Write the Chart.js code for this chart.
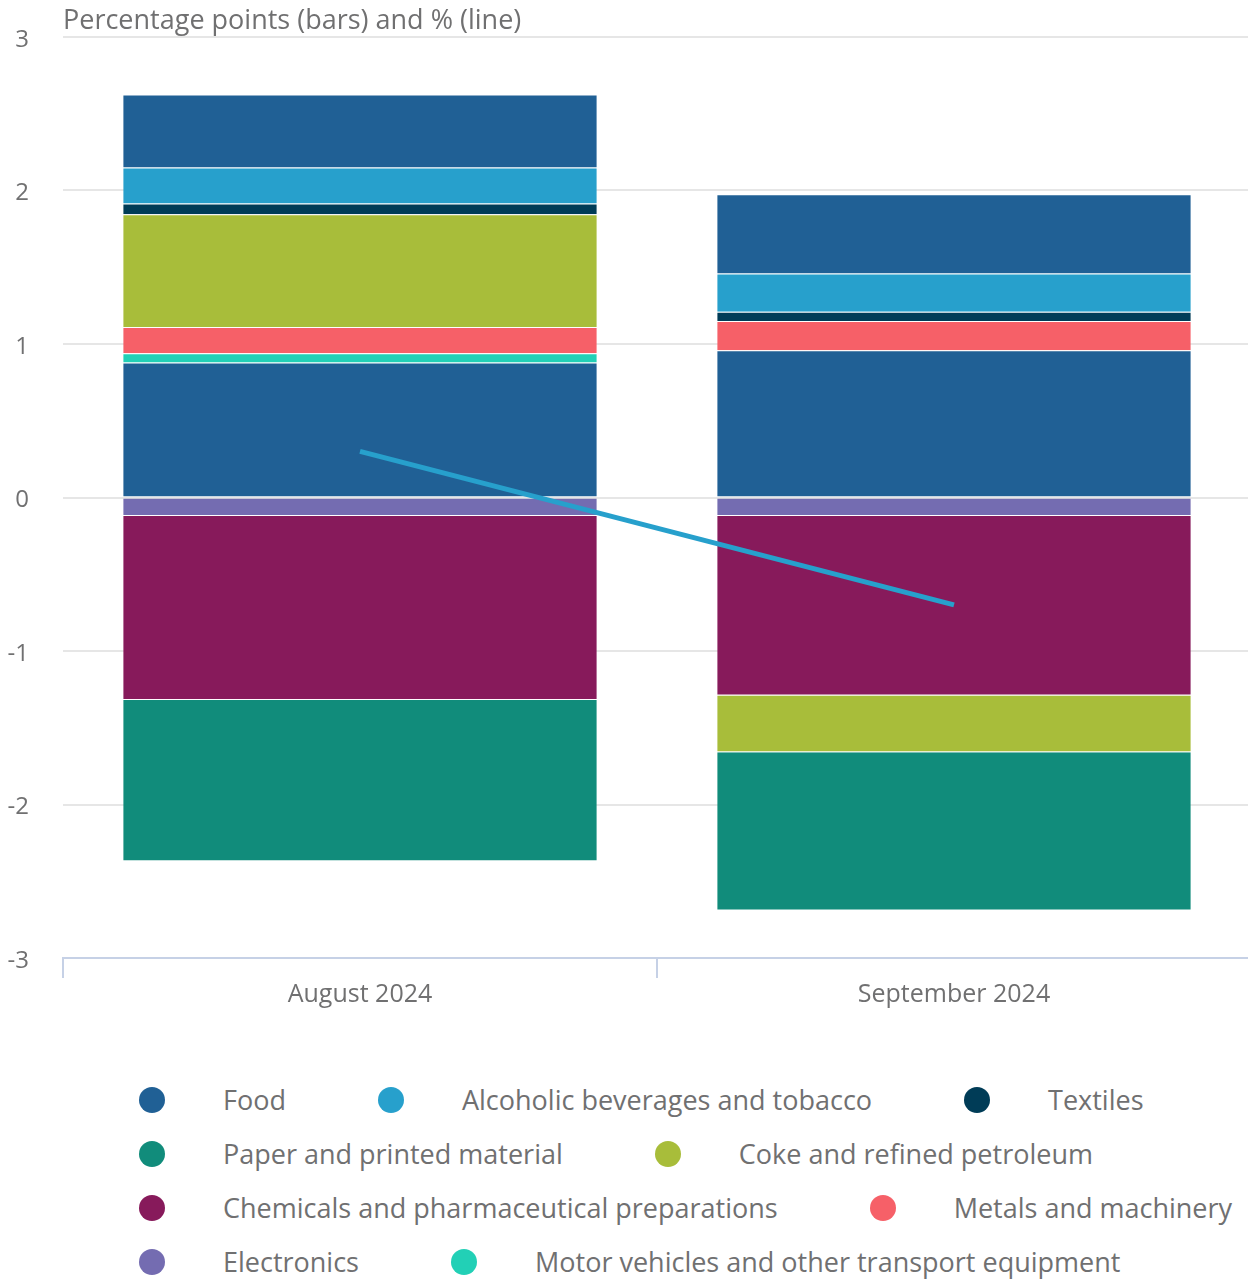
<!DOCTYPE html>
<html>
<head>
<meta charset="utf-8">
<script src="https://cdn.jsdelivr.net/npm/chart.js@4.4.1/dist/chart.umd.min.js"></script>
<style>
  body { margin: 0; background: #fff; overflow: hidden; font-family: "Open Sans", sans-serif; }
  #wrap { position: relative; width: 1251px; height: 1040px; }
  #legend {
    margin-top: 33px;
    padding-left: 139px;
    width: 1100px;
    display: flex;
    flex-wrap: wrap;
    column-gap: 92px;
    font-size: 27px;
    line-height: 54px;
    color: #707071;
  }
  .item { display: flex; align-items: center; white-space: nowrap; }
  .dot { width: 26px; height: 26px; border-radius: 50%; margin-right: 58px; }
</style>
</head>
<body>
<div id="wrap"><canvas id="chart"></canvas></div>
<div id="legend"></div>
<script>
// Categories and axis ticks
const categories = ["August 2024", "September 2024"];
const yTicks = [-3, -2, -1, 0, 1, 2, 3];

// Contributions (percentage points)
const food = [0.88, 0.96];
const electronics = [-0.12, -0.12];
const motorVehicles = [0.06, null];
const metals = [0.17, 0.19];
const chemicals = [-1.2, -1.17];
const coke = [0.735, -0.37];
const paper = [-1.05, -1.03];
const textiles = [0.07, 0.06];
const alcohol = [0.235, 0.25];
const other = [0.475, 0.515]; // top segment, not shown in legend

// Headline rate (%), the line
const headline = [0.3, -0.7];

const legendOrder = [
  "Food",
  "Alcoholic beverages and tobacco",
  "Textiles",
  "Paper and printed material",
  "Coke and refined petroleum",
  "Chemicals and pharmaceutical preparations",
  "Metals and machinery",
  "Electronics",
  "Motor vehicles and other transport equipment",
];

function bar(label, data, color, inLegend = true) {
  return {
    type: "bar",
    label: label,
    data: data,
    backgroundColor: color,
    borderColor: "rgba(255, 255, 255, 0.15)",
    borderWidth: 1,
    order: 1,
    inLegend: inLegend,
  };
}

// Dataset order sets the stacking order
const datasets = [
  {
    type: "line",
    label: "Headline",
    data: headline,
    borderColor: "#27a0cc",
    borderWidth: 5,
    pointRadius: 0,
    stack: "line",
    order: 0,
    inLegend: false,
  },
  bar("Food", food, "#206095"),
  bar("Electronics", electronics, "#746cb1"),
  bar("Motor vehicles and other transport equipment", motorVehicles, "#22d0b6"),
  bar("Metals and machinery", metals, "#f66068"),
  bar("Chemicals and pharmaceutical preparations", chemicals, "#871a5b"),
  bar("Coke and refined petroleum", coke, "#a8bd3a"),
  bar("Paper and printed material", paper, "#118c7b"),
  bar("Textiles", textiles, "#003c57"),
  bar("Alcoholic beverages and tobacco", alcohol, "#27a0cc"),
  bar("Other manufacturing", other, "#206095", false),
];

// Axis title drawn top-left of the plot area
const axisTitle = {
  id: "axisTitle",
  afterDraw(chart) {
    const ctx = chart.ctx;
    ctx.save();
    ctx.font = '27px "Open Sans"';
    ctx.fillStyle = "#707071";
    ctx.textBaseline = "middle";
    ctx.fillText("Percentage points (bars) and % (line)", chart.chartArea.left, 21);
    ctx.restore();
  },
};

const chart = new Chart(document.getElementById("chart"), {
  data: { labels: categories, datasets: datasets },
  plugins: [axisTitle],
  options: {
    responsive: true,
    maintainAspectRatio: false,
    animation: false,
    layout: { padding: { top: 37, bottom: 28, right: 0, left: 0 } },
    plugins: {
      legend: { display: false },
      tooltip: { enabled: false },
    },
    datasets: {
      bar: { categoryPercentage: 1, barPercentage: 0.8 },
    },
    scales: {
      x: {
        stacked: true,
        offset: true,
        grid: {
          offset: true,
          drawOnChartArea: false,
          drawTicks: true,
          tickLength: 20,
          color: "#c6d1e6",
          lineWidth: 2,
        },
        border: { color: "#c6d1e6", width: 2 },
        ticks: {
          color: "#707071",
          font: { family: "Open Sans", size: 25 },
          padding: 2,
        },
      },
      y: {
        stacked: true,
        min: yTicks[0],
        max: yTicks[yTicks.length - 1],
        afterBuildTicks(axis) {
          axis.ticks = yTicks.map((v) => ({ value: v }));
        },
        afterFit(axis) {
          axis.width = 63;
          axis.paddingTop = 14;
          axis.paddingBottom = 14;
        },
        grid: { color: "#e6e6e6", lineWidth: 2, drawTicks: false },
        border: { display: false },
        ticks: {
          color: "#707071",
          font: { family: "Open Sans", size: 24 },
          padding: 34,
          labelOffset: 3,
        },
      },
    },
  },
});

// HTML legend in the source's order
const legendEl = document.getElementById("legend");
legendOrder.forEach((name) => {
  const ds = datasets.find((d) => d.label === name && d.inLegend);
  const item = document.createElement("div");
  item.className = "item";
  item.innerHTML = `<span class="dot" style="background:${ds.backgroundColor}"></span><span>${name}</span>`;
  legendEl.appendChild(item);
});
</script>
</body>
</html>
